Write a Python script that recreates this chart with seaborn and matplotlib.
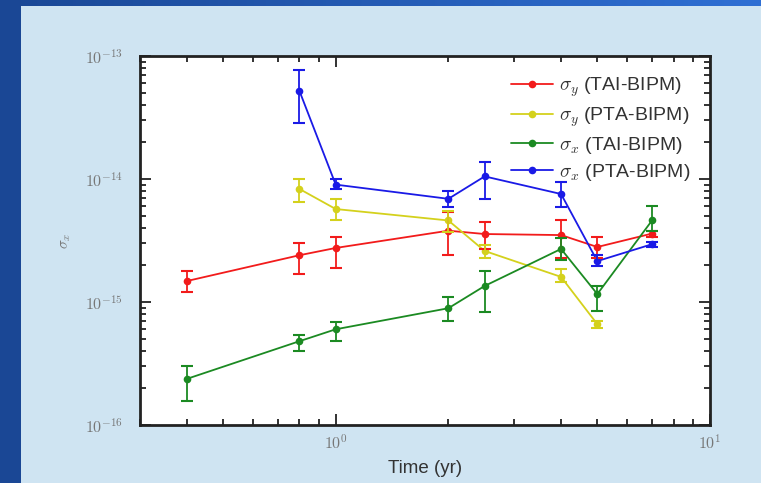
import numpy as np
import pandas as pd
import matplotlib
matplotlib.use("Agg")
import matplotlib.pyplot as plt
from matplotlib.ticker import FuncFormatter, NullFormatter
import seaborn as sns

# data
series_names = [r"$\sigma_y$ (TAI-BIPM)", r"$\sigma_y$ (PTA-BIPM)",
                r"$\sigma_x$ (TAI-BIPM)", r"$\sigma_x$ (PTA-BIPM)"]
series_colors = ["#f21b1b", "#d4d11c", "#1b8a22", "#1a1ae6"]

t_red = [0.4, 0.8, 1.0, 2.0, 2.5, 4.0, 5.0, 7.0]
v_red = [1.48e-15, 2.4e-15, 2.75e-15, 3.8e-15, 3.57e-15, 3.5e-15, 2.8e-15, 3.6e-15]
hi_red = [1.8e-15, 3.0e-15, 3.4e-15, 5.4e-15, 4.5e-15, 4.6e-15, 3.4e-15, 3.8e-15]
lo_red = [1.2e-15, 1.7e-15, 1.9e-15, 2.4e-15, 2.7e-15, 2.3e-15, 2.3e-15, 3.4e-15]

t_yel = [0.8, 1.0, 2.0, 2.5, 4.0, 5.0]
v_yel = [8.3e-15, 5.7e-15, 4.6e-15, 2.6e-15, 1.6e-15, 6.6e-16]
hi_yel = [1.0e-14, 6.9e-15, 5.5e-15, 2.9e-15, 1.85e-15, 7.0e-16]
lo_yel = [6.5e-15, 4.6e-15, 3.7e-15, 2.3e-15, 1.45e-15, 6.2e-16]

t_grn = [0.4, 0.8, 1.0, 2.0, 2.5, 4.0, 5.0, 7.0]
v_grn = [2.37e-16, 4.8e-16, 6.0e-16, 8.9e-16, 1.35e-15, 2.7e-15, 1.16e-15, 4.6e-15]
hi_grn = [3.0e-16, 5.4e-16, 6.9e-16, 1.1e-15, 1.8e-15, 3.3e-15, 1.35e-15, 6.0e-15]
lo_grn = [1.57e-16, 4.0e-16, 4.8e-16, 7.0e-16, 8.3e-16, 2.2e-15, 8.5e-16, 3.8e-15]

t_blu = [0.8, 1.0, 2.0, 2.5, 4.0, 5.0, 7.0]
v_blu = [5.2e-14, 9.0e-15, 6.9e-15, 1.05e-14, 7.55e-15, 2.15e-15, 2.95e-15]
hi_blu = [7.7e-14, 1.0e-14, 8.0e-15, 1.37e-14, 9.4e-15, 2.4e-15, 3.1e-15]
lo_blu = [2.85e-14, 8.3e-15, 5.9e-15, 6.9e-15, 5.9e-15, 1.95e-15, 2.8e-15]

x_ticks = [1, 10]
y_ticks = [1e-16, 1e-15, 1e-14, 1e-13]

sns.set_style("ticks")
plt.rcParams["mathtext.fontset"] = "cm"
plt.rcParams["font.family"] = ["Liberation Sans", "DejaVu Sans"]

W, H = 761, 483
fig = plt.figure(figsize=(W / 100, H / 100), dpi=100)

# slide background: blue frame on left/top, light blue panel
img = np.zeros((H, W, 3))
img[:, :] = np.array([0xcf, 0xe4, 0xf2]) / 255
left_blue = np.array([0x1a, 0x47, 0x95]) / 255
right_blue = np.array([0x2f, 0x6f, 0xd4]) / 255
frac = np.linspace(0, 1, W)[:, None]
img[:6, :] = left_blue + (right_blue - left_blue) * frac
img[:, :21] = left_blue
fig.figimage(img, xo=0, yo=0, origin="upper", zorder=-10)

ax = fig.add_axes([140 / W, 1 - 425 / H, 570 / W, 369 / H])

rows = []
all_sets = [(t_red, v_red), (t_yel, v_yel), (t_grn, v_grn), (t_blu, v_blu)]
for name, (t, v) in zip(series_names, all_sets):
    for ti, vi in zip(t, v):
        rows.append({"t": ti, "v": vi, "series": name})
df = pd.DataFrame(rows)

sns.lineplot(data=df, x="t", y="v", hue="series", hue_order=series_names,
             palette=series_colors, marker="o", markersize=5.5, markeredgewidth=0,
             linewidth=1.3, ax=ax, sort=False, estimator=None)

err_sets = [(t_red, v_red, lo_red, hi_red), (t_yel, v_yel, lo_yel, hi_yel),
            (t_grn, v_grn, lo_grn, hi_grn), (t_blu, v_blu, lo_blu, hi_blu)]
for col, (t, v, lo, hi) in zip(series_colors, err_sets):
    v = np.array(v)
    yerr = [v - np.array(lo), np.array(hi) - v]
    ax.errorbar(t, v, yerr=yerr, fmt="none", ecolor=col, elinewidth=1.3,
                capsize=4, capthick=1.5)

ax.set_xscale("log")
ax.set_yscale("log")
ax.set_xlim(0.3, 10)
ax.set_ylim(1e-16, 1e-13)
ax.set_xticks(x_ticks)
ax.set_yticks(y_ticks)
ax.set_facecolor("white")

sci = FuncFormatter(lambda v, p: r"$10^{%d}$" % round(np.log10(v)))
ax.xaxis.set_major_formatter(sci)
ax.yaxis.set_major_formatter(sci)
ax.xaxis.set_minor_formatter(NullFormatter())
ax.yaxis.set_minor_formatter(NullFormatter())

for s in ax.spines.values():
    s.set_linewidth(2)
    s.set_color("#222222")
ax.tick_params(which="both", direction="in", top=True, right=True, labelcolor="#777777",
               labelsize=11.5, color="#222222")
ax.tick_params(which="major", length=8, width=1.3, pad=6)
ax.tick_params(axis="y", which="major", pad=12)
ax.tick_params(which="minor", length=4, width=1.3)
ax.set_xlabel("Time (yr)", fontsize=13.5, color="#333333", labelpad=6)
ax.set_ylabel(r"$\sigma_x$", fontsize=11, color="#777777", labelpad=9)

leg = ax.legend(loc="upper right", frameon=False, fontsize=14, handlelength=2.2,
                handletextpad=0.3, labelspacing=0.32, borderaxespad=0.6)
for txt in leg.get_texts():
    txt.set_color("#333333")

fig.savefig("out.png", dpi=100)
